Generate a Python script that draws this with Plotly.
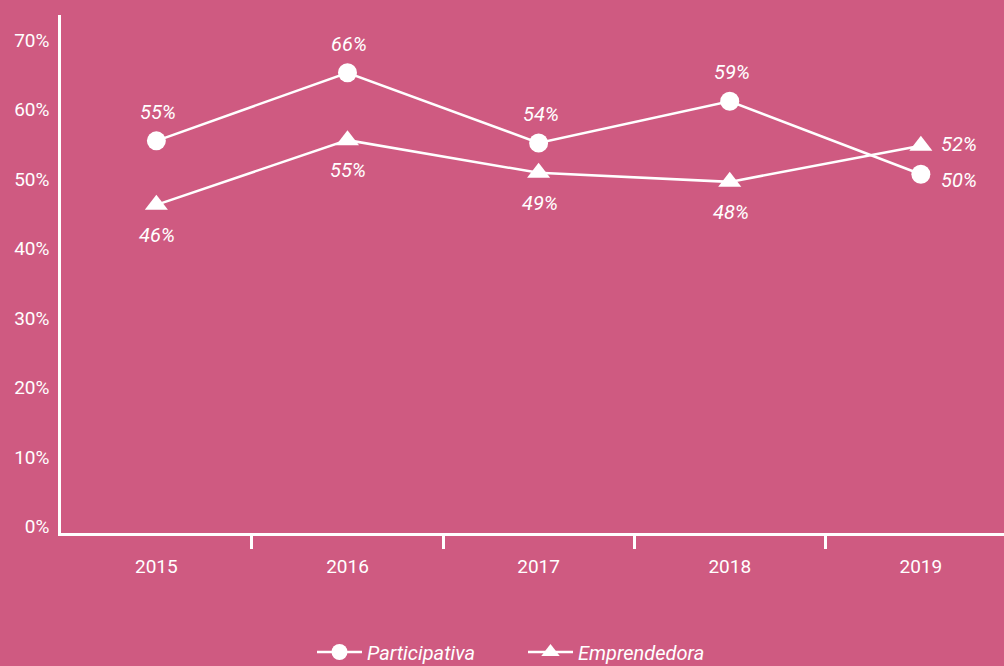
import plotly.graph_objects as go

years = ["2015", "2016", "2017", "2018", "2019"]
participativa = [55.5, 65.3, 55.2, 61.2, 50.7]
participativa_labels = ["55", "66", "54", "59", "50"]
emprendedora = [46.3, 55.6, 50.9, 49.6, 54.8]
emprendedora_labels = ["46", "55", "49", "48", "52"]
y_ticks = [0, 10, 20, 30, 40, 50, 60, 70]

BG = "#CF5A81"
FONT = "Roboto"
PCT = "&#37;"

fig = go.Figure()
fig.add_trace(go.Scatter(
    x=years, y=participativa, name="Participativa", mode="lines+markers",
    line=dict(color="white", width=2.5),
    marker=dict(symbol="circle", size=19, color="white"),
))
fig.add_trace(go.Scatter(
    x=years, y=emprendedora, name="Emprendedora", mode="lines+markers",
    line=dict(color="white", width=2.5),
    marker=dict(symbol="triangle-up", size=20, color="white"),
))

ann_font = dict(family=FONT, size=20, color="white", style="italic")
n = len(years)
for i, (v, t) in enumerate(zip(participativa, participativa_labels)):
    if i == n - 1:
        fig.add_annotation(x=i, y=v, text=t + PCT, showarrow=False, font=ann_font,
                           xref="x", yref="y", xshift=38, yshift=-6)
    else:
        fig.add_annotation(x=i, y=v, text=t + PCT, showarrow=False, font=ann_font,
                           xref="x", yref="y", xshift=2, yshift=29)
for i, (v, t) in enumerate(zip(emprendedora, emprendedora_labels)):
    if i == n - 1:
        fig.add_annotation(x=i, y=v, text=t + PCT, showarrow=False, font=ann_font,
                           xref="x", yref="y", xshift=38, yshift=2)
    else:
        fig.add_annotation(x=i, y=v, text=t + PCT, showarrow=False, font=ann_font,
                           xref="x", yref="y", xshift=1, yshift=-30)

fig.update_layout(
    width=1004, height=666,
    paper_bgcolor=BG, plot_bgcolor=BG,
    margin=dict(l=61, r=0, t=15, b=133, autoexpand=False),
    font=dict(family=FONT, size=20, color="white"),
    showlegend=True,
    legend=dict(orientation="h", x=(312 - 61) / 943, xanchor="left",
                y=(533 - 652) / 518, yanchor="middle",
                font=dict(family=FONT, size=20, color="white", style="italic"),
                bgcolor="rgba(0,0,0,0)", itemwidth=45,
                entrywidth=151, entrywidthmode="pixels"),
    xaxis=dict(
        type="category", range=[-0.499, 4.435],
        showline=True, linecolor="white", linewidth=2.5,
        showgrid=False, zeroline=False,
        ticks="outside", tickson="boundaries", ticklen=13, tickwidth=2.5, tickcolor="white",
        ticklabelstandoff=14,
        tickfont=dict(family=FONT, size=19, color="white"),
    ),
    yaxis=dict(
        range=[-0.9, 73.6],
        tickvals=y_ticks, ticktext=[str(v) + PCT for v in y_ticks],
        showline=True, linecolor="white", linewidth=2.5,
        showgrid=False, zeroline=False, ticks="",
        ticklabelstandoff=5,
        tickfont=dict(family=FONT, size=19, color="white"),
    ),
)

fig.write_html("out.html", config={"displayModeBar": False},
               post_script="document.body.style.margin='0';")
